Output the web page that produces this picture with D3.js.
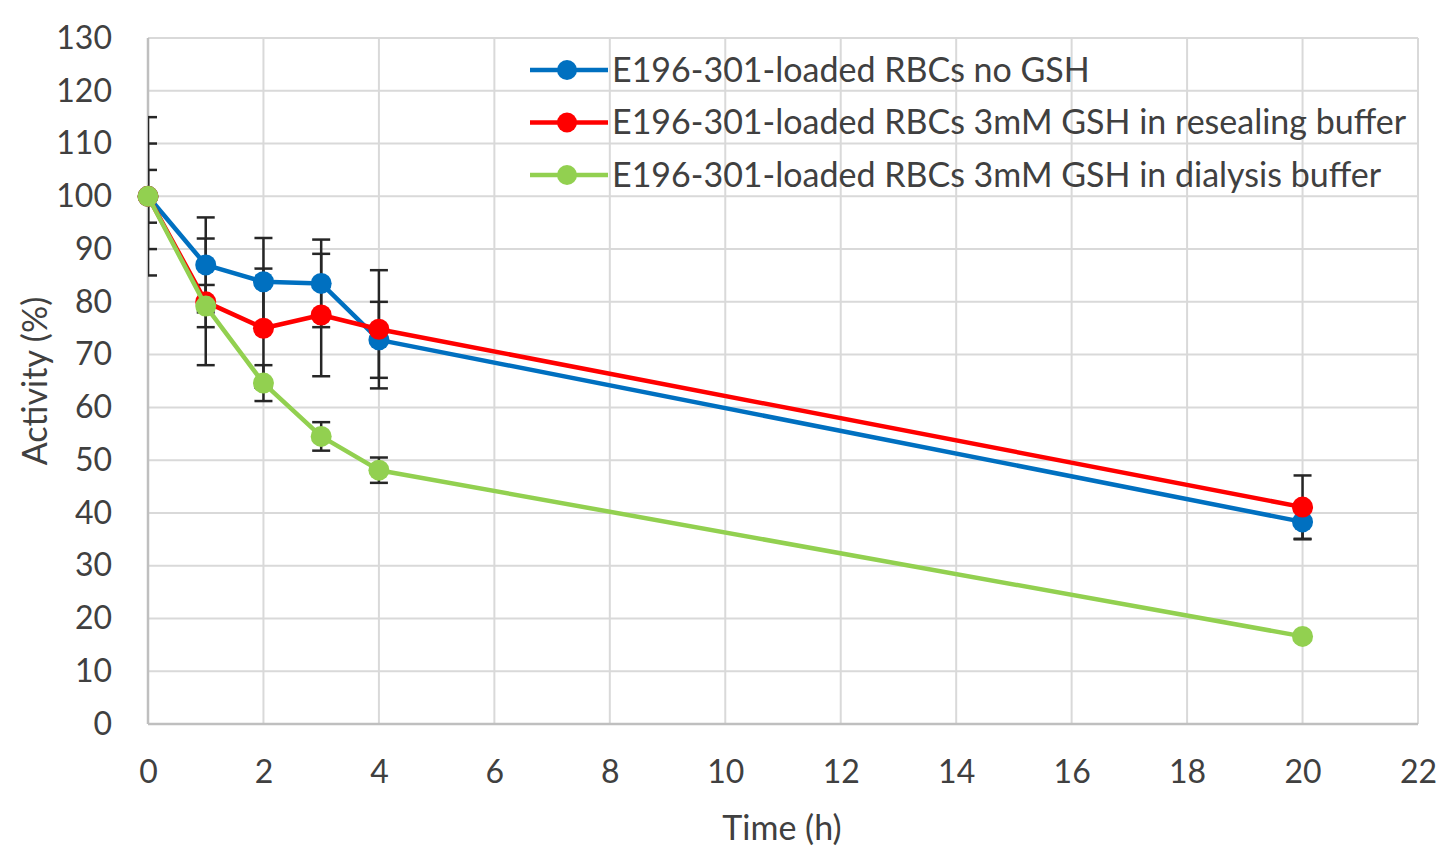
<!DOCTYPE html>
<html>
<head>
<meta charset="utf-8">
<script src="https://cdn.jsdelivr.net/npm/d3@7"></script>
<style>
  body { margin: 0; background: #fff; }
  svg { display: block; font-family: Lato, "Open Sans", sans-serif; }
</style>
</head>
<body>
<div id="chart"></div>
<script>
// values
const time = [0, 1, 2, 3, 4, 20];
const seriesNames = [
  "E196-301-loaded RBCs no GSH",
  "E196-301-loaded RBCs 3mM GSH in resealing buffer",
  "E196-301-loaded RBCs 3mM GSH in dialysis buffer",
];
const noGsh = [100, 87, 83.8, 83.5, 72.8, 38.3];
const noGshErr = [15, 9, 8.3, 8.3, 7.2, 3.3];
const resealing = [100, 80, 75, 77.5, 74.8, 41.1];
const resealingErr = [10, 12, 11.3, 11.6, 11.2, 6];
const dialysis = [100, 79.2, 64.6, 54.5, 48.1, 16.6];
const dialysisErr = [5, 4, 3.4, 2.7, 2.4, 0];
const colors = ["#0070C0", "#FF0000", "#92D050"];
const xTicks = d3.range(0, 23, 2);
const yTicks = d3.range(0, 131, 10);

const series = [
  { name: seriesNames[0], values: noGsh, err: noGshErr, color: colors[0] },
  { name: seriesNames[1], values: resealing, err: resealingErr, color: colors[1] },
  { name: seriesNames[2], values: dialysis, err: dialysisErr, color: colors[2] },
];

const svgWidth = 1450;
const svgHeight = 860;
const marginTop = 38,
  marginRight = 32,
  marginBottom = 136,
  marginLeft = 148;
const width = svgWidth - marginLeft - marginRight;
const height = svgHeight - marginTop - marginBottom;

const svg = d3
  .select("#chart")
  .append("svg")
  .attr("width", svgWidth)
  .attr("height", svgHeight);

const chart = svg
  .append("g")
  .attr("transform", `translate(${marginLeft}, ${marginTop})`);

const x = d3.scaleLinear().domain([0, 22]).range([0, width]);
const y = d3.scaleLinear().domain([0, 130]).range([height, 0]);

svg
  .append("defs")
  .append("clipPath")
  .attr("id", "plot-clip")
  .append("rect")
  .attr("width", width)
  .attr("height", height);

// grid
chart
  .append("g")
  .selectAll("line")
  .data(yTicks)
  .join("line")
  .attr("x1", 0)
  .attr("x2", width)
  .attr("y1", (d) => y(d))
  .attr("y2", (d) => y(d))
  .attr("stroke", "#d9d9d9")
  .attr("stroke-width", 2);

chart
  .append("g")
  .selectAll("line")
  .data(xTicks)
  .join("line")
  .attr("x1", (d) => x(d))
  .attr("x2", (d) => x(d))
  .attr("y1", 0)
  .attr("y2", height)
  .attr("stroke", "#d9d9d9")
  .attr("stroke-width", 2);

// axis lines
chart
  .append("line")
  .attr("x1", 0)
  .attr("x2", width)
  .attr("y1", height)
  .attr("y2", height)
  .attr("stroke", "#bfbfbf")
  .attr("stroke-width", 2.5);
chart
  .append("line")
  .attr("x1", 0)
  .attr("x2", 0)
  .attr("y1", 0)
  .attr("y2", height)
  .attr("stroke", "#bfbfbf")
  .attr("stroke-width", 2.5);

// tick labels
const yAxis = chart
  .append("g")
  .call(d3.axisLeft(y).tickValues(yTicks).tickSize(0).tickPadding(36));
const xAxis = chart
  .append("g")
  .attr("transform", `translate(0, ${height})`)
  .call(d3.axisBottom(x).tickValues(xTicks).tickSize(0).tickPadding(36));
[xAxis, yAxis].forEach((ax) => {
  ax.select(".domain").remove();
  ax.selectAll("text")
    .attr("font-family", "Lato, sans-serif")
    .attr("font-size", 32)
    .attr("fill", "#404040");
});

// error bars
const capHalf = 9;
const errG = chart
  .append("g")
  .attr("clip-path", "url(#plot-clip)")
  .attr("stroke", "#262626")
  .attr("stroke-width", 2.5);

series.forEach((s) => {
  const pts = time
    .map((t, i) => ({ t, v: s.values[i], e: s.err[i] }))
    .filter((p) => p.e > 0);
  const g = errG.append("g");
  g.selectAll("line.v")
    .data(pts)
    .join("line")
    .attr("class", "v")
    .attr("x1", (d) => x(d.t))
    .attr("x2", (d) => x(d.t))
    .attr("y1", (d) => y(d.v + d.e))
    .attr("y2", (d) => y(d.v - d.e));
  [1, -1].forEach((sign) => {
    g.selectAll(null)
      .data(pts)
      .join("line")
      .attr("x1", (d) => x(d.t) - capHalf)
      .attr("x2", (d) => x(d.t) + capHalf)
      .attr("y1", (d) => y(d.v + sign * d.e))
      .attr("y2", (d) => y(d.v + sign * d.e));
  });
});

// lines and markers
const line = d3
  .line()
  .x((d) => x(d[0]))
  .y((d) => y(d[1]));

series.forEach((s) => {
  const pts = time.map((t, i) => [t, s.values[i]]);
  const g = chart.append("g");
  g.append("path")
    .attr("d", line(pts))
    .attr("fill", "none")
    .attr("stroke", s.color)
    .attr("stroke-width", 4.5)
    .attr("stroke-linejoin", "round");
  g.selectAll("circle")
    .data(pts)
    .join("circle")
    .attr("cx", (d) => x(d[0]))
    .attr("cy", (d) => y(d[1]))
    .attr("r", 10.5)
    .attr("fill", s.color);
});

// legend
const legend = svg.append("g").attr("transform", "translate(530, 70)");
const rows = legend
  .selectAll("g")
  .data(series)
  .join("g")
  .attr("transform", (d, i) => `translate(0, ${i * 52.5})`);
rows
  .append("line")
  .attr("x1", 0)
  .attr("x2", 78)
  .attr("stroke", (d) => d.color)
  .attr("stroke-width", 4.5);
rows
  .append("circle")
  .attr("cx", 37)
  .attr("r", 10)
  .attr("fill", (d) => d.color);
rows
  .append("text")
  .attr("x", 82)
  .attr("dy", "0.35em")
  .attr("font-size", 34)
  .attr("fill", "#404040")
  .text((d) => d.name);

// axis titles
svg
  .append("text")
  .attr("x", marginLeft + width / 2 - 1)
  .attr("y", 828)
  .attr("dy", "0.35em")
  .attr("text-anchor", "middle")
  .attr("font-size", 34)
  .attr("fill", "#404040")
  .text("Time (h)");
svg
  .append("text")
  .attr("transform", "translate(35, 381) rotate(-90)")
  .attr("dy", "0.35em")
  .attr("text-anchor", "middle")
  .attr("font-size", 34)
  .attr("fill", "#404040")
  .text("Activity (%)");
</script>
</body>
</html>
